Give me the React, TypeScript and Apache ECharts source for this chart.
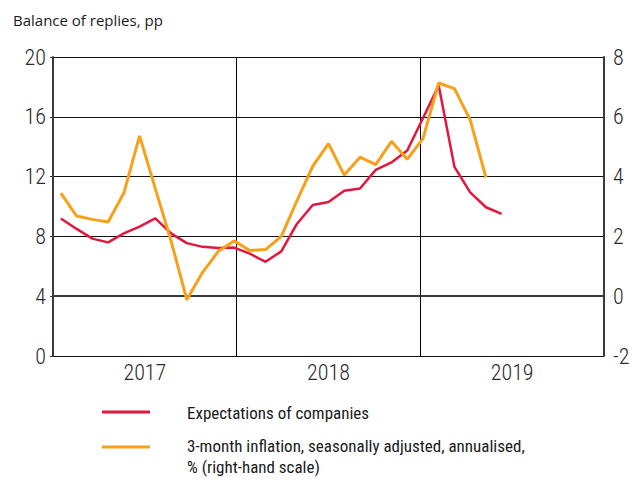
import React, { useEffect, useRef } from "react";
import * as echarts from "echarts";

// 35 observation slots spanning 2017–2019 (hidden category axis)
const slots: string[] = Array.from({ length: 35 }, (_, i) => String(i + 1));
const years = ["2017", "2018", "2019"];

const expectationsName = "Expectations of companies";
const expectations = [
  9.2, 8.5, 7.85, 7.6, 8.2, 8.65, 9.2, 8.2, 7.55, 7.3, 7.22, 7.25, 6.85, 6.3,
  7.0, 8.85, 10.1, 10.3, 11.05, 11.2, 12.45, 12.95, 13.75, 15.9, 18.1, 12.65,
  10.95, 9.95, 9.5,
];

const inflationName =
  "3-month inflation, seasonally adjusted, annualised, % (right-hand scale)";
const inflationLegendLines = [
  "3-month inflation, seasonally adjusted, annualised,",
  "% (right-hand scale)",
];
const inflation = [
  3.45, 2.68, 2.57, 2.48, 3.45, 5.36, 3.6, 1.85, -0.12, 0.8, 1.5, 1.85, 1.53,
  1.56, 2.0, 3.2, 4.35, 5.1, 4.05, 4.65, 4.4, 5.18, 4.58, 5.27, 7.13, 6.94, 5.9,
  3.97,
];

const leftTicks = { min: 0, max: 20, interval: 4 };
const rightTicks = { min: -2, max: 8, interval: 2 };

const RED = "#E3173E";
const ORANGE = "#F7A11A";
const NARROW = "'Roboto Condensed', Roboto, sans-serif";
const AXIS_DARK = "#3a3a3a";
const TEXT = "#1a1a1a";
const TICK_TEXT = "#2a2a2a";

export default function App() {
  const ref = useRef<HTMLDivElement>(null);
  useEffect(() => {
    if (!ref.current) return;
    const chart = echarts.init(ref.current, undefined, { renderer: "svg" });
    chart.setOption({
      animation: false,
      backgroundColor: "#ffffff",
      grid: { left: 53, right: 35, top: 57, bottom: 130, containLabel: false },
      xAxis: [
        {
          type: "category",
          data: slots,
          boundaryGap: true,
          position: "bottom",
          show: false,
        },
        {
          type: "category",
          data: years,
          boundaryGap: true,
          position: "bottom",
          axisLine: { show: true, lineStyle: { color: AXIS_DARK, width: 2 } },
          axisTick: { show: false },
          axisLabel: {
            color: TICK_TEXT,
            fontFamily: NARROW,
            fontWeight: 300,
            fontSize: 22,
            margin: 5,
          },
          splitLine: { show: true, lineStyle: { color: "#000", width: 1 } },
        },
      ],
      yAxis: [
        {
          type: "value",
          position: "left",
          ...leftTicks,
          axisLine: { show: true, lineStyle: { color: AXIS_DARK, width: 2 } },
          axisTick: { show: true, length: 3, lineStyle: { color: AXIS_DARK } },
          axisLabel: { color: TICK_TEXT, fontFamily: NARROW, fontWeight: 300, fontSize: 22, margin: 7 },
          splitLine: { show: true, lineStyle: { color: "#111", width: 1 } },
        },
        {
          type: "value",
          position: "right",
          ...rightTicks,
          axisLine: { show: true, lineStyle: { color: AXIS_DARK, width: 2 } },
          axisTick: { show: false },
          axisLabel: { color: TICK_TEXT, fontFamily: NARROW, fontWeight: 300, fontSize: 22, margin: 9 },
          splitLine: { show: false },
        },
      ],
      series: [
        {
          name: expectationsName,
          type: "line",
          xAxisIndex: 0,
          yAxisIndex: 0,
          data: expectations,
          showSymbol: false,
          lineStyle: { color: RED, width: 2.5 },
          itemStyle: { color: RED },
        },
        {
          name: inflationName,
          type: "line",
          xAxisIndex: 0,
          yAxisIndex: 1,
          data: inflation,
          showSymbol: false,
          lineStyle: { color: ORANGE, width: 3 },
          itemStyle: { color: ORANGE },
        },
      ],
      graphic: [
        {
          type: "text",
          left: 13,
          top: 12,
          style: {
            text: "Balance of replies, pp",
            font: "15px 'Open Sans', sans-serif",
            fill: TEXT,
          },
        },
        {
          type: "line",
          shape: { x1: 102, y1: 412, x2: 150, y2: 412 },
          style: { stroke: RED, lineWidth: 3 },
        },
        {
          type: "line",
          shape: { x1: 102, y1: 447, x2: 150, y2: 447 },
          style: { stroke: ORANGE, lineWidth: 3 },
        },
        {
          type: "text",
          x: 187,
          y: 413,
          style: {
            text: expectationsName,
            font: `17px ${NARROW}`,
            fill: TEXT,
            textVerticalAlign: "middle",
          },
        },
        {
          type: "text",
          x: 187,
          y: 446,
          style: {
            text: inflationLegendLines[0],
            font: `17px ${NARROW}`,
            fill: TEXT,
            textVerticalAlign: "middle",
          },
        },
        {
          type: "text",
          x: 187,
          y: 467,
          style: {
            text: inflationLegendLines[1],
            font: `17px ${NARROW}`,
            fill: TEXT,
            textVerticalAlign: "middle",
          },
        },
      ],
    });
    return () => chart.dispose();
  }, []);
  return (
    <div
      ref={ref}
      style={{ position: "fixed", left: 0, top: 0, width: 639, height: 486 }}
    />
  );
}
